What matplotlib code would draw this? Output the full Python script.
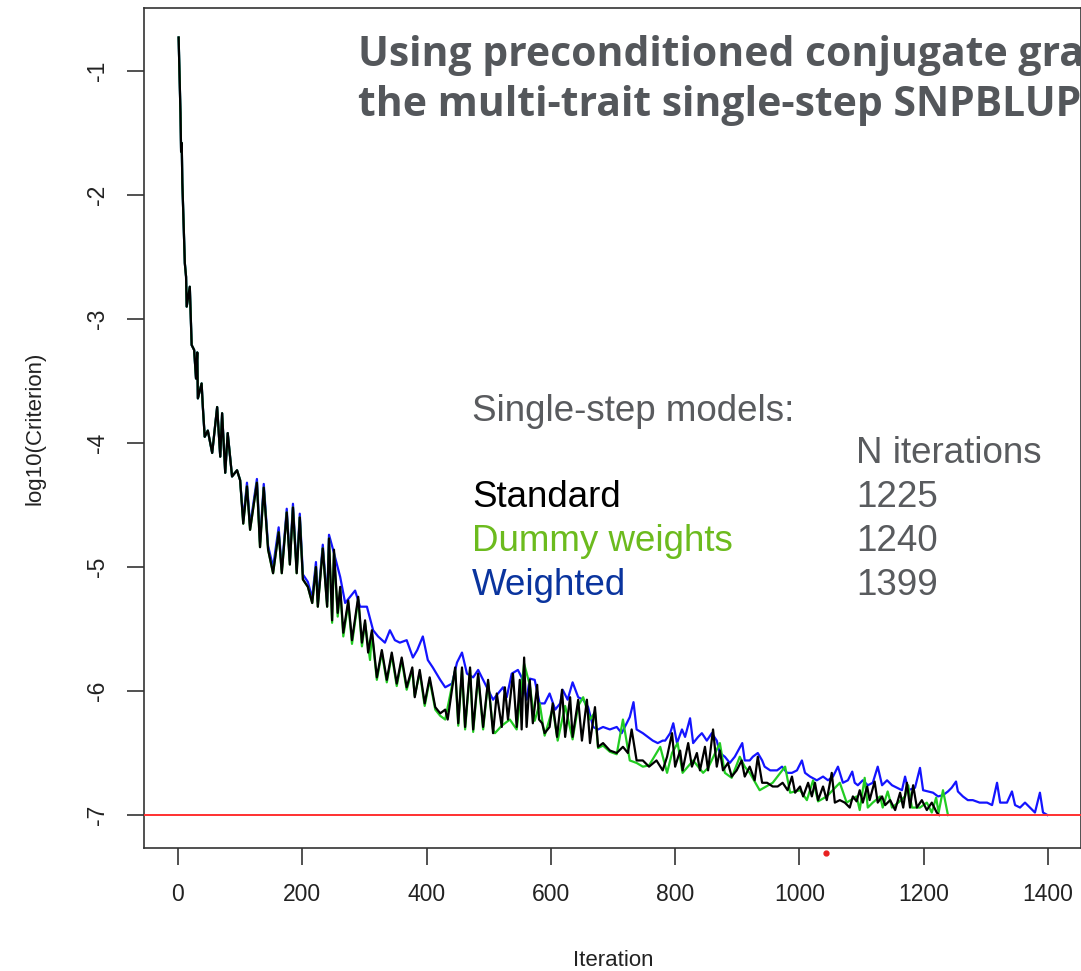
import matplotlib
matplotlib.use("Agg")
import matplotlib.pyplot as plt

# ---------------- data ----------------
black_iter = [1, 4, 5, 6, 7, 11, 13, 14, 19, 22, 26, 29, 31, 32, 38, 40, 43, 48, 55, 63,
              68, 71, 76, 80, 87, 95, 100, 105, 111, 116, 127, 132, 138, 145, 153, 162, 167, 175, 180, 185,
              191, 196, 201, 209, 216, 222, 225, 233, 240, 243, 248, 251, 257, 261, 266, 274, 280, 290, 296, 301,
              306, 312, 320, 328, 336, 344, 352, 360, 368, 377, 381, 389, 397, 405, 414, 422, 430, 434, 446, 451,
              457, 462, 470, 475, 483, 491, 499, 507, 513, 521, 526, 531, 539, 545, 550, 553, 557, 561, 566, 571,
              578, 581, 586, 590, 598, 603, 610, 618, 623, 631, 635, 644, 650, 658, 663, 671, 676, 684, 695, 706,
              716, 724, 730, 738, 748, 758, 770, 780, 787, 795, 800, 808, 812, 821, 827, 835, 840, 848, 853, 861,
              867, 872, 877, 885, 891, 899, 907, 912, 920, 928, 933, 940, 948, 957, 965, 973, 981, 988, 993, 1001,
              1006, 1014, 1020, 1025, 1030, 1038, 1044, 1052, 1057, 1065, 1073, 1081, 1086, 1092, 1097, 1102, 1109, 1113, 1121, 1126,
              1133, 1138, 1146, 1154, 1162, 1167, 1173, 1178, 1183, 1189, 1197, 1205, 1213, 1221, 1225]
black_val = [-0.73, -1.34, -1.65, -1.58, -1.90, -2.55, -2.66, -2.90, -2.74, -3.21, -3.25, -3.48, -3.27, -3.64, -3.52, -3.71, -3.95, -3.90, -4.08, -3.71,
             -4.11, -3.76, -4.24, -3.92, -4.27, -4.22, -4.30, -4.65, -4.35, -4.70, -4.32, -4.84, -4.36, -4.86, -5.05, -4.72, -5.05, -4.56, -4.98, -4.52,
             -5.05, -4.60, -5.10, -5.16, -5.29, -5.00, -5.32, -4.85, -5.32, -4.77, -5.43, -4.86, -5.37, -5.16, -5.53, -5.27, -5.59, -5.24, -5.61, -5.43,
             -5.69, -5.51, -5.89, -5.67, -5.91, -5.69, -5.94, -5.73, -5.97, -5.81, -6.05, -5.83, -6.10, -5.89, -6.13, -6.18, -6.15, -6.23, -5.81, -6.26,
             -5.81, -6.29, -5.81, -6.31, -5.86, -6.29, -5.91, -6.34, -6.02, -6.29, -5.97, -6.23, -5.86, -6.29, -5.91, -6.31, -5.73, -6.29, -5.91, -6.26,
             -5.95, -6.23, -6.26, -6.34, -6.29, -6.10, -6.37, -5.99, -6.37, -6.05, -6.37, -6.07, -6.40, -6.07, -6.42, -6.13, -6.45, -6.42, -6.48, -6.50,
             -6.45, -6.50, -6.31, -6.56, -6.56, -6.61, -6.56, -6.64, -6.53, -6.34, -6.61, -6.48, -6.64, -6.42, -6.61, -6.50, -6.64, -6.45, -6.64, -6.31,
             -6.61, -6.48, -6.64, -6.58, -6.69, -6.64, -6.56, -6.69, -6.61, -6.72, -6.53, -6.74, -6.74, -6.77, -6.77, -6.74, -6.80, -6.69, -6.82, -6.77,
             -6.85, -6.74, -6.85, -6.74, -6.88, -6.77, -6.88, -6.66, -6.90, -6.88, -6.90, -6.94, -6.85, -6.89, -6.80, -6.90, -6.77, -6.88, -6.73, -6.90,
             -6.85, -6.92, -6.88, -6.96, -6.82, -6.94, -6.74, -6.94, -6.76, -6.94, -6.88, -6.96, -6.90, -6.98, -7.00]

green_iter = [1, 4, 5, 6, 7, 11, 13, 14, 19, 22, 26, 29, 31, 32, 38, 40, 43, 48, 55, 63,
              68, 71, 76, 80, 87, 95, 100, 105, 111, 116, 127, 132, 138, 145, 153, 162, 167, 175, 180, 185,
              191, 196, 201, 209, 216, 222, 225, 233, 240, 243, 248, 251, 257, 261, 266, 274, 280, 290, 296, 301,
              309, 312, 320, 328, 336, 344, 352, 360, 368, 377, 381, 389, 397, 405, 414, 422, 430, 446, 451, 457,
              462, 470, 475, 483, 491, 499, 507, 510, 521, 534, 545, 557, 566, 574, 582, 590, 603, 611, 623, 635,
              644, 652, 663, 671, 676, 684, 695, 706, 716, 727, 738, 748, 758, 776, 787, 795, 804, 812, 829, 845,
              853, 872, 880, 891, 904, 912, 920, 936, 957, 977, 985, 1001, 1012, 1022, 1030, 1044, 1065, 1076, 1092, 1097,
              1105, 1110, 1118, 1130, 1134, 1142, 1149, 1159, 1170, 1175, 1181, 1194, 1205, 1213, 1220, 1224, 1231, 1239]
green_val = [-0.73, -1.34, -1.65, -1.58, -1.90, -2.55, -2.66, -2.90, -2.74, -3.21, -3.25, -3.48, -3.27, -3.64, -3.52, -3.71, -3.95, -3.90, -4.08, -3.71,
             -4.11, -3.76, -4.24, -3.92, -4.27, -4.22, -4.30, -4.65, -4.35, -4.70, -4.32, -4.84, -4.36, -4.86, -5.05, -4.72, -5.05, -4.56, -4.98, -4.52,
             -5.05, -4.60, -5.10, -5.16, -5.29, -5.00, -5.32, -4.85, -5.32, -4.77, -5.45, -4.88, -5.40, -5.18, -5.56, -5.29, -5.62, -5.26, -5.64, -5.45,
             -5.75, -5.53, -5.91, -5.69, -5.93, -5.71, -5.96, -5.75, -5.99, -5.83, -6.04, -5.85, -6.12, -5.91, -6.15, -6.20, -6.23, -5.83, -6.28, -5.83,
             -6.31, -5.83, -6.33, -5.88, -6.31, -5.93, -6.31, -6.34, -6.28, -6.23, -6.31, -5.78, -5.95, -6.24, -6.10, -6.36, -6.14, -6.40, -6.12, -6.39,
             -6.12, -6.05, -6.23, -6.17, -6.46, -6.44, -6.49, -6.51, -6.23, -6.56, -6.58, -6.61, -6.60, -6.45, -6.66, -6.50, -6.42, -6.66, -6.56, -6.66,
             -6.62, -6.42, -6.66, -6.70, -6.53, -6.61, -6.66, -6.80, -6.74, -6.61, -6.82, -6.80, -6.88, -6.72, -6.89, -6.85, -6.74, -6.90, -6.85, -6.96,
             -6.70, -6.94, -6.90, -6.85, -6.94, -6.81, -6.94, -6.90, -6.85, -6.76, -6.94, -6.94, -6.90, -6.98, -6.86, -6.98, -6.80, -7.00]

blue_iter = [1, 4, 5, 6, 7, 11, 13, 14, 19, 22, 26, 29, 31, 32, 38, 40, 43, 48, 55, 63,
             68, 71, 76, 80, 87, 95, 100, 105, 111, 116, 127, 132, 138, 145, 153, 162, 167, 175, 180, 185,
             191, 196, 201, 209, 216, 222, 225, 233, 240, 243, 249, 261, 269, 285, 293, 304, 314, 322, 333, 341,
             349, 357, 368, 378, 385, 394, 402, 410, 422, 430, 441, 449, 457, 465, 475, 483, 497, 507, 515, 523,
             529, 537, 547, 553, 561, 566, 574, 582, 590, 598, 607, 615, 619, 627, 635, 644, 652, 660, 668, 676,
             684, 695, 706, 714, 719, 727, 733, 738, 748, 756, 764, 772, 780, 784, 792, 797, 803, 811, 816, 824,
             829, 837, 843, 851, 859, 867, 872, 880, 888, 896, 908, 912, 920, 925, 933, 940, 944, 953, 964, 972,
             980, 988, 996, 1004, 1009, 1017, 1028, 1038, 1046, 1054, 1062, 1070, 1078, 1085, 1089, 1094, 1102, 1110, 1118, 1126,
             1133, 1141, 1149, 1157, 1165, 1170, 1175, 1186, 1194, 1199, 1207, 1215, 1223, 1231, 1239, 1245, 1252, 1255, 1263, 1271,
             1279, 1290, 1302, 1310, 1318, 1323, 1334, 1342, 1347, 1355, 1363, 1371, 1379, 1387, 1392, 1399]
blue_val = [-0.73, -1.34, -1.65, -1.58, -1.90, -2.55, -2.66, -2.90, -2.74, -3.21, -3.25, -3.48, -3.27, -3.64, -3.52, -3.71, -3.95, -3.90, -4.08, -3.71,
            -4.11, -3.76, -4.24, -3.92, -4.27, -4.22, -4.30, -4.62, -4.32, -4.67, -4.29, -4.80, -4.33, -4.83, -5.00, -4.68, -5.02, -4.53, -4.95, -4.49,
            -5.02, -4.57, -5.06, -5.12, -5.25, -4.96, -5.28, -4.82, -5.28, -4.74, -4.85, -5.08, -5.29, -5.19, -5.32, -5.32, -5.51, -5.56, -5.61, -5.51,
            -5.59, -5.61, -5.59, -5.73, -5.67, -5.56, -5.75, -5.81, -5.91, -5.97, -5.94, -5.77, -5.69, -5.86, -5.89, -5.83, -5.97, -6.07, -6.02, -5.97,
            -6.05, -5.86, -5.83, -5.89, -6.07, -5.90, -5.91, -6.10, -6.10, -6.02, -6.15, -6.10, -5.99, -6.07, -5.93, -6.05, -6.07, -6.13, -6.29, -6.31,
            -6.29, -6.31, -6.29, -6.34, -6.29, -6.21, -6.09, -6.31, -6.34, -6.37, -6.40, -6.42, -6.40, -6.40, -6.34, -6.26, -6.42, -6.31, -6.37, -6.22,
            -6.42, -6.37, -6.34, -6.40, -6.34, -6.40, -6.50, -6.53, -6.58, -6.53, -6.42, -6.56, -6.56, -6.53, -6.50, -6.56, -6.61, -6.64, -6.64, -6.61,
            -6.66, -6.66, -6.64, -6.56, -6.66, -6.69, -6.72, -6.69, -6.72, -6.69, -6.61, -6.74, -6.72, -6.65, -6.74, -6.76, -6.72, -6.76, -6.74, -6.61,
            -6.76, -6.72, -6.76, -6.78, -6.80, -6.69, -6.80, -6.78, -6.62, -6.80, -6.81, -6.82, -6.85, -6.84, -6.81, -6.78, -6.73, -6.81, -6.85, -6.88,
            -6.88, -6.90, -6.90, -6.92, -6.74, -6.90, -6.90, -6.81, -6.92, -6.94, -6.90, -6.94, -6.98, -6.82, -6.98, -7.00]

x_ticks = [0, 200, 400, 600, 800, 1000, 1200, 1400]
y_ticks = [-7, -6, -5, -4, -3, -2, -1]
y_tick_labels = ["-7", "-6", "-5", "-4", "-3", "-2", "-1"]
threshold = -7
stray_point = (1043, -7.306)

title_lines = ["Using preconditioned conjugate gradients",
               "the multi-trait single-step SNPBLUP"]
models = ["Standard", "Dummy weights", "Weighted"]
n_iterations = ["1225", "1240", "1399"]

# ---------------- figure ----------------
W, H = 1081, 971
fig = plt.figure(figsize=(W / 100, H / 100), dpi=100)
ax = fig.add_axes([144 / W, 1 - 848 / H, (1080.5 - 144) / W, (848 - 8) / H])

ax.plot(blue_iter, blue_val, color="#1414ff", lw=1.6, zorder=2)
ax.plot(green_iter, green_val, color="#22cc22", lw=1.6, zorder=3)
ax.plot(black_iter, black_val, color="#000000", lw=1.6, zorder=4)
ax.axhline(threshold, color="#ff3030", lw=1.4, zorder=5)
ax.plot([stray_point[0]], [stray_point[1]], "o", color="#e82020", ms=3.5,
        clip_on=False, zorder=6)

ax.set_xlim(-54.7, 1452.3)
ax.set_ylim(-7.266, -0.492)

tick_font = dict(family="Liberation Sans", size=16.5, color="#222222")
ax.set_xticks(x_ticks)
ax.set_xticklabels([str(t) for t in x_ticks], fontdict=tick_font)
ax.set_yticks(y_ticks)
ax.set_yticklabels(y_tick_labels, fontdict=tick_font, rotation=90, va="center")
ax.tick_params(axis="both", length=12, width=1.2, color="#333333")
ax.tick_params(axis="x", pad=13)
ax.tick_params(axis="y", pad=13)
for s in ax.spines.values():
    s.set_color("#333333")
    s.set_linewidth(1.2)

fig.text(613 / W, 1 - 960 / H, "Iteration", ha="center", va="center",
         family="Liberation Sans", size=16, color="#222222")
fig.text(35 / W, 1 - 428 / H, "log10(Criterion)", ha="center", va="center",
         rotation=90, family="Liberation Sans", size=16, color="#222222")

# title (cut off by the figure edge, as in the reference)
title_color = "#54575b"
fig.text(358 / W, 1 - 66 / H, title_lines[0], ha="left", va="baseline",
         family="Open Sans", weight="bold", size=29.4, color=title_color)
fig.text(358 / W, 1 - 116 / H, title_lines[1], ha="left", va="baseline",
         family="Open Sans", weight="bold", size=29.4, color=title_color)

# annotation block
ann = dict(family="Liberation Sans", size=26.5, ha="left", va="baseline")
grey = "#595b5e"
model_colors = ["#000000", "#6cbb1e", "#0a349e"]
fig.text(472 / W, 1 - 421 / H, "Single-step models:", color=grey, **ann)
fig.text(856 / W, 1 - 463 / H, "N iterations", color=grey, **ann)
for i, (m, n, c) in enumerate(zip(models, n_iterations, model_colors)):
    yb = 507 + i * 44
    fig.text(472 / W, 1 - yb / H, m, color=c, **ann)
    fig.text(856 / W, 1 - yb / H, n, color=grey, **ann)

fig.savefig("out.png", dpi=100)
